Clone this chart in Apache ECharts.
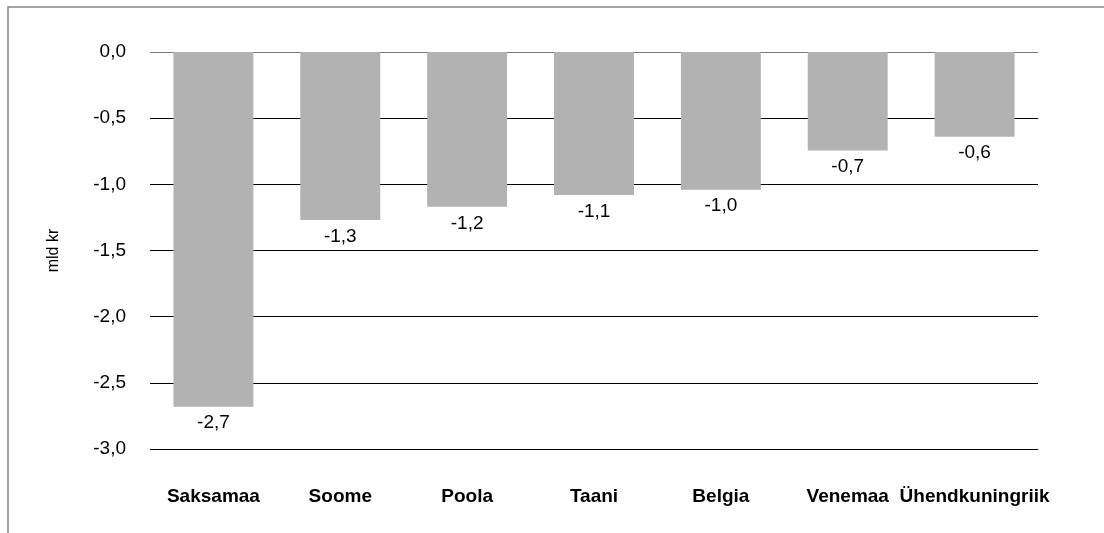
<!DOCTYPE html>
<html>
<head>
<meta charset="utf-8">
<script src="https://cdn.jsdelivr.net/npm/echarts@6/dist/echarts.min.js"></script>
<style>
html, body { margin: 0; padding: 0; background: #fff; }
#main { width: 1104px; height: 533px; }
</style>
</head>
<body>
<div id="main"></div>
<script>
// riigid ja saldo (mld kr)
var countries = ['Saksamaa', 'Soome', 'Poola', 'Taani', 'Belgia', 'Venemaa', 'Ühendkuningriik'];
var values = [-2.68, -1.27, -1.17, -1.08, -1.04, -0.745, -0.64];
var yTicks = [-3, -2.5, -2, -1.5, -1, -0.5, 0];

function fmt(v) {
	return Number(v).toFixed(1).replace('.', ',');
}

var chart = echarts.init(document.getElementById('main'));

// ülemine nulljoon hall, teised mustad
var lineColors = yTicks.map(function (t) { return t === 0 ? '#777777' : '#000000'; });

var option = {
	animation: false,
	textStyle: { fontFamily: 'Liberation Sans, Arial, sans-serif' },
	graphic: [{
		type: 'rect',
		shape: { x: 8, y: 7, width: 1200, height: 700 },
		style: { fill: 'none', stroke: '#858585', lineWidth: 1.5 },
		silent: true
	}],
	grid: { left: 150, right: 66, top: 52, bottom: 84 },
	xAxis: {
		type: 'category',
		data: countries,
		axisLine: { show: false },
		axisTick: { show: false },
		axisLabel: {
			color: '#000',
			fontSize: 19,
			fontWeight: 'bold',
			margin: 38,
			interval: 0
		}
	},
	yAxis: {
		type: 'value',
		min: yTicks[0],
		max: yTicks[yTicks.length - 1],
		interval: 0.5,
		name: 'mld kr',
		nameLocation: 'middle',
		nameGap: 88,
		nameTextStyle: { color: '#000', fontSize: 16 },
		axisLine: { show: false },
		axisTick: { show: false },
		axisLabel: {
			color: '#000',
			fontSize: 19,
			margin: 24,
			formatter: fmt
		},
		splitLine: {
			lineStyle: { color: lineColors, width: 1 }
		}
	},
	series: [{
		type: 'bar',
		data: values,
		barCategoryGap: '37%',
		itemStyle: { color: '#b2b2b2' },
		label: {
			show: true,
			position: 'bottom',
			distance: 7,
			color: '#000',
			fontSize: 19,
			formatter: function (p) { return fmt(p.value); }
		}
	}]
};

chart.setOption(option);
</script>
</body>
</html>
